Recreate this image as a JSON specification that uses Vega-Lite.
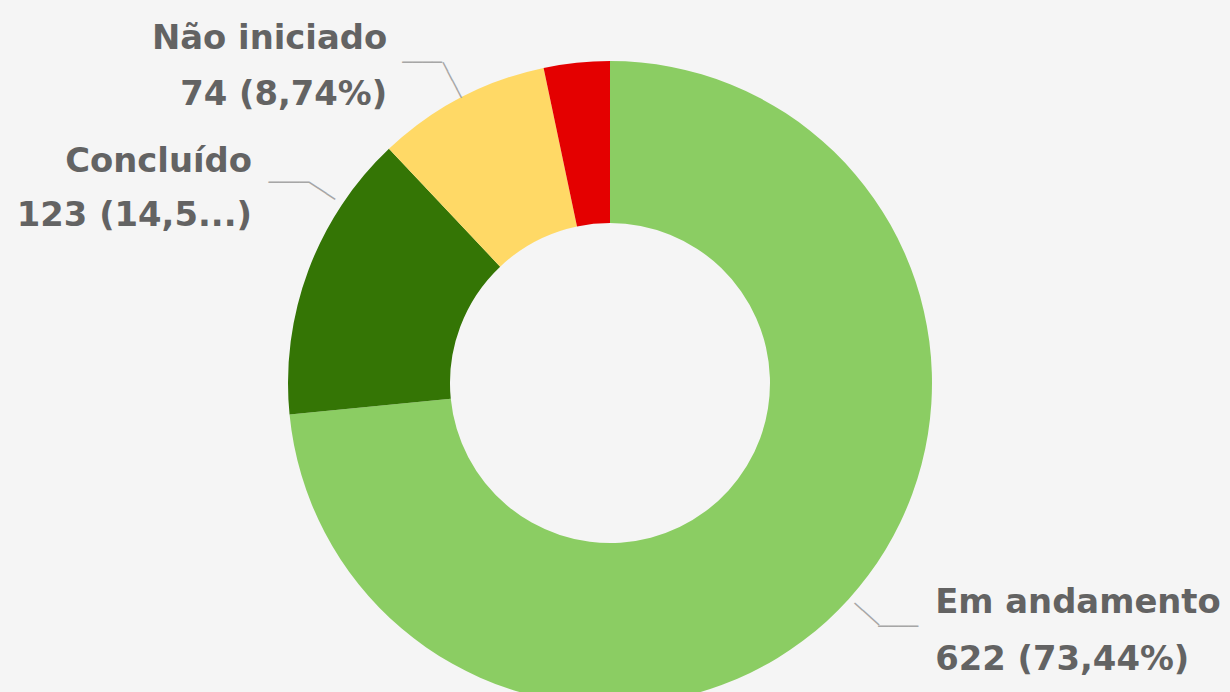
{
  "$schema": "https://vega.github.io/schema/vega-lite/v6.json",
  "width": 1220,
  "height": 618,
  "autosize": {"type": "none"},
  "padding": {"left": 0, "top": 74, "right": 10, "bottom": 0},
  "background": "#F5F5F5",
  "config": {"view": {"stroke": null}},
  "data": {
    "values": [
      {"status": "Em andamento", "value": 622, "label": "Em andamento\n622 (73,44%)"},
      {"status": "Concluído", "value": 123, "label": "Concluído\n123 (14,5...)"},
      {"status": "Não iniciado", "value": 74, "label": "Não iniciado\n74 (8,74%)"},
      {"status": "Atrasado", "value": 28, "label": "Atrasado\n28 (3,31%)"}
    ]
  },
  "encoding": {
    "theta": {"field": "value", "type": "quantitative", "stack": true},
    "order": {"field": "value", "type": "quantitative", "sort": "descending"},
    "detail": {"field": "status", "type": "nominal"}
  },
  "layer": [
    {
      "mark": {"type": "arc", "innerRadius": 160, "outerRadius": 322},
      "encoding": {
        "color": {
          "field": "status",
          "type": "nominal",
          "scale": {
            "domain": ["Em andamento", "Concluído", "Não iniciado", "Atrasado"],
            "range": ["#8BCD63", "#347505", "#FFD966", "#E40000"]
          },
          "legend": null
        }
      }
    },
    {
      "mark": {"type": "text", "radius": 362, "align": "left", "baseline": "middle", "dx": 57, "dy": -23.4, "font": "DejaVu Sans", "fontWeight": "bold", "fontSize": 33.8, "lineHeight": 57, "lineBreak": "\n", "color": "#636363"},
      "encoding": {"text": {"condition": {"test": "datum.status === 'Em andamento'", "field": "label", "type": "nominal"}, "value": ""}}
    },
    {
      "mark": {"type": "text", "radius": 362, "align": "right", "baseline": "middle", "dx": -55, "dy": -23.2, "font": "DejaVu Sans", "fontWeight": "bold", "fontSize": 33.8, "lineHeight": 56, "lineBreak": "\n", "color": "#636363"},
      "encoding": {"text": {"condition": {"test": "datum.status === 'Não iniciado'", "field": "label", "type": "nominal"}, "value": ""}}
    },
    {
      "mark": {"type": "text", "radius": 362, "align": "right", "baseline": "middle", "dx": -19, "dy": -94.2, "font": "DejaVu Sans", "fontWeight": "bold", "fontSize": 33.8, "lineHeight": 54, "lineBreak": "\n", "color": "#636363"},
      "encoding": {"text": {"condition": {"test": "datum.status === 'Concluído'", "field": "label", "type": "nominal"}, "value": ""}}
    },
    {
      "mark": {"type": "text", "radius": 362, "align": "center", "baseline": "middle", "dx": 20, "dy": 1, "font": "DejaVu Sans Mono", "fontSize": 16.6, "color": "#A6A6A6"},
      "encoding": {"text": {"condition": {"test": "datum.status === 'Em andamento'", "value": "────"}, "value": ""}}
    },
    {
      "mark": {"type": "text", "radius": 362, "align": "center", "baseline": "middle", "dx": -20, "dy": 1, "font": "DejaVu Sans Mono", "fontSize": 16.6, "color": "#A6A6A6"},
      "encoding": {"text": {"condition": {"test": "datum.status === 'Não iniciado'", "value": "────"}, "value": ""}}
    },
    {
      "mark": {"type": "text", "radius": 362, "align": "center", "baseline": "middle", "dx": 18, "dy": -73, "font": "DejaVu Sans Mono", "fontSize": 17, "color": "#A6A6A6"},
      "encoding": {"text": {"condition": {"test": "datum.status === 'Concluído'", "value": "────"}, "value": ""}}
    },
    {
      "mark": {"type": "text", "radius": 345.5, "angle": 42.2, "align": "center", "baseline": "middle", "font": "DejaVu Sans Mono", "fontSize": 18, "color": "#A6A6A6"},
      "encoding": {"text": {"condition": {"test": "datum.status === 'Em andamento'", "value": "───"}, "value": ""}}
    },
    {
      "mark": {"type": "text", "radius": 341.5, "angle": 62.4, "align": "center", "baseline": "middle", "font": "DejaVu Sans Mono", "fontSize": 16.6, "color": "#A6A6A6"},
      "encoding": {"text": {"condition": {"test": "datum.status === 'Não iniciado'", "value": "────"}, "value": ""}}
    },
    {
      "mark": {"type": "text", "radius": 346, "angle": 33.6, "align": "center", "baseline": "middle", "dx": -9, "dy": -78.4, "font": "DejaVu Sans Mono", "fontSize": 17, "color": "#A6A6A6"},
      "encoding": {"text": {"condition": {"test": "datum.status === 'Concluído'", "value": "───"}, "value": ""}}
    }
  ]
}
